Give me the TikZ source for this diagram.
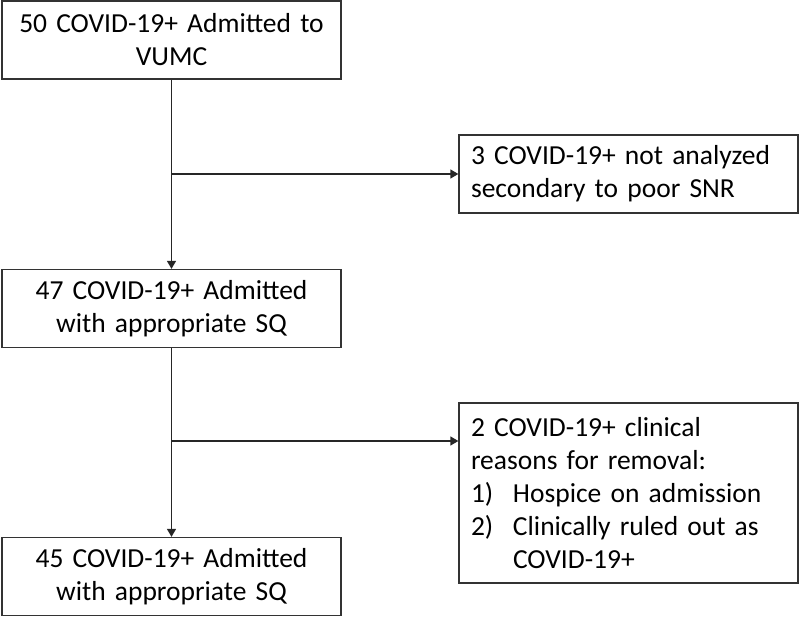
\documentclass[tikz,border=0pt]{standalone}
\usepackage{fontspec}
\setmainfont{Carlito}
\usetikzlibrary{arrows.meta}
\protected\def\boxfont{\fontsize{27.5}{33}\selectfont\spaceskip=0.15em\relax}

\begin{document}
\begin{tikzpicture}[x=1pt, y=-1pt,
    box/.style={draw=black!80, line width=1.3pt, inner sep=0pt,
      minimum width=339pt, minimum height=78pt, font=\boxfont},
    mainbox/.style={box, text width=339pt, align=center},
    sidebox/.style={box, inner xsep=12pt, text width=315pt, align=left},
    flow/.style={draw=black!85, line width=1.4pt,
      -{Triangle[length=8pt, width=9pt]}}]
  \useasboundingbox (0,0) rectangle (800,617);

  % main column
  \node[mainbox] (admit) at (171.5,40) {50 COVID-19+ Admitted to\\VUMC};
  \node[mainbox] (goodsq) at (171.5,308.5) {47 COVID-19+ Admitted\\with appropriate SQ};
  \node[mainbox] (final) at (171.5,576.5) {45 COVID-19+ Admitted\\with appropriate SQ};

  % exclusions
  \node[sidebox] (poorsnr) at (628.5,174) {3 COVID-19+ not analyzed\\secondary to poor SNR};
  \node[sidebox, minimum height=180pt] (clinical) at (628.5,493)
    {2 COVID-19+ clinical\\
     reasons for removal:\\
     \makebox[42pt][l]{1)}Hospice on admission\\
     \makebox[42pt][l]{2)}Clinically ruled out as\\
     \hspace*{42pt}COVID-19+};

  \coordinate (split) at (171.5,441);

  \draw[flow] (admit) -- (goodsq);
  \draw[flow] (admit.south |- poorsnr.west) -- (poorsnr);
  \draw[flow] (goodsq) -- (final);
  \draw[flow] (split) -- (split -| clinical.west);
\end{tikzpicture}
\end{document}
